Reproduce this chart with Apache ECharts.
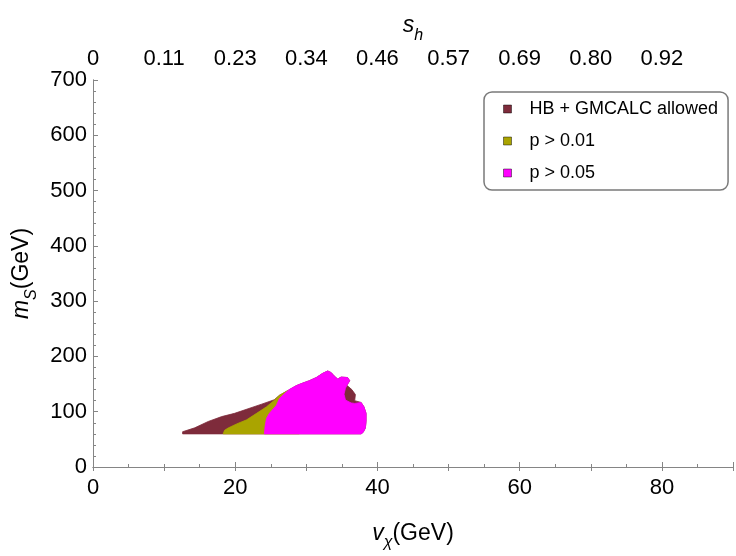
<!DOCTYPE html>
<html>
<head>
<meta charset="utf-8">
<script src="https://cdn.jsdelivr.net/npm/echarts@6/dist/echarts.min.js"></script>
<style>
  html, body { margin: 0; padding: 0; background: #ffffff; }
  #chart { width: 736px; height: 556px; }
</style>
</head>
<body>
<div id="chart"></div>
<script>
// Bottom axis tick labels (v_chi in GeV) and top axis labels (s_h at every 10 GeV)
const vTickLabels = [0, 20, 40, 60, 80];
const shTickLabels = ['0', '0.11', '0.23', '0.34', '0.46', '0.57', '0.69', '0.80', '0.92'];
const mTickLabels = [0, 100, 200, 300, 400, 500, 600, 700];
const seriesNames = ['HB + GMCALC allowed', 'p > 0.01', 'p > 0.05'];

// Region outlines, vertices as [v_chi (GeV), m_S (GeV)]
const allowedRegion = [
  [12.6, 59.9], [12.6, 63.8], [14.3, 70.8], [16.2, 82.3], [18.1, 91.2],
  [19.9, 97.0], [21.8, 105.3], [23.7, 113.6], [25.5, 121.7], [26.2, 129.5],
  [27.4, 138.3], [28.6, 147.2], [29.5, 151.8], [30.4, 156.0], [31.4, 161.8],
  [32.3, 169.4], [33.0, 173.7], [33.5, 170.7], [33.9, 164.8], [34.4, 159.2],
  [34.9, 162.7], [35.8, 161.8], [36.1, 156.0], [35.7, 147.7], [36.4, 140.0],
  [36.9, 131.0], [36.8, 120.0], [37.7, 116.8], [38.1, 108.8], [38.4, 97.0],
  [38.4, 82.3], [38.3, 70.5], [38.0, 62.9], [37.7, 59.9]
];
const p01Region = [
  [18.3, 59.9], [18.5, 66.4], [19.0, 70.5], [20.2, 77.9], [21.6, 85.3],
  [23.0, 97.0], [24.4, 108.8], [25.5, 120.7], [26.2, 129.5], [27.4, 138.3],
  [29.0, 135.0], [29.0, 59.9]
];
const p05Region = [
  [24.1, 59.9], [24.2, 73.5], [24.4, 88.2], [24.8, 97.0], [25.8, 111.8],
  [26.2, 123.5], [26.9, 132.3], [27.6, 140.1], [28.6, 147.2], [29.5, 151.8],
  [30.4, 156.0], [31.4, 161.8], [32.3, 169.4], [33.0, 173.7], [33.5, 170.7],
  [33.9, 164.8], [34.4, 159.2], [34.9, 162.7], [35.8, 161.8], [36.1, 156.0],
  [35.7, 147.7], [35.5, 142.4], [35.3, 131.8], [35.5, 121.2], [36.3, 115.9],
  [36.8, 115.0], [37.7, 116.8], [38.1, 108.8], [38.4, 97.0], [38.4, 82.3],
  [38.3, 70.5], [38.0, 62.9], [37.7, 59.9]
];

const COLORS = ['#7e2b3b', '#aaa400', '#ff00ff'];
const FONT = "'Liberation Sans', Arial, Helvetica, sans-serif";
const FRAME = '#858585';

// Filled region drawn as one polygon through the cartesian coordinate system
function regionSeries(name, verts, color, z) {
  return {
    type: 'custom',
    name: name,
    xAxisIndex: 0,
    yAxisIndex: 0,
    z: z,
    silent: true,
    animation: false,
    clip: true,
    itemStyle: { color: color },
    data: verts,
    encode: { x: 0, y: 1 },
    renderItem: function (params, api) {
      if (params.dataIndex !== 0) return null;
      const pts = verts.map(function (p) { return api.coord(p); });
      return {
        type: 'polygon',
        shape: { points: pts },
        style: { fill: color, stroke: color, lineWidth: 0.8 }
      };
    }
  };
}

const tickStyle = { color: FRAME, width: 1 };
const labelStyle = { color: '#000', fontSize: 22, fontFamily: FONT };

const chart = echarts.init(document.getElementById('chart'), null, { renderer: 'canvas' });

chart.setOption({
  backgroundColor: '#ffffff',
  animation: false,
  textStyle: { fontFamily: FONT },
  grid: { left: 93, top: 80, width: 642, height: 397, containLabel: false },
  legend: {
    orient: 'vertical',
    left: 484,
    top: 92,
    padding: [8, 10, 8, 19],
    itemGap: 14,
    itemWidth: 8,
    itemHeight: 8,
    icon: 'rect',
    backgroundColor: '#ffffff',
    borderColor: '#7a7a7a',
    borderWidth: 1.5,
    borderRadius: 8,
    textStyle: { fontSize: 18, color: '#000', fontFamily: FONT, padding: [0, 0, 0, 13] },
    data: seriesNames.map(function (n) {
      return { name: n, itemStyle: { borderColor: 'rgba(0,0,0,0.45)', borderWidth: 1 } };
    })
  },
  xAxis: [
    {
      type: 'value', position: 'bottom', min: 0, max: 90, interval: 20,
      axisLine: { show: true, lineStyle: tickStyle },
      axisTick: { show: true, inside: true, length: 5, lineStyle: tickStyle },
      minorTick: { show: false },
      splitLine: { show: false },
      axisLabel: {
        ...labelStyle, margin: 10, showMaxLabel: true,
        formatter: function (v) { return vTickLabels.indexOf(v) >= 0 ? String(v) : ''; }
      },
      name: '{i|v}{s|χ}{n|(GeV)}',
      nameLocation: 'middle',
      nameGap: 48,
      nameTextStyle: {
        rich: {
          i: { fontSize: 23, fontStyle: 'italic', fontFamily: FONT, color: '#000', verticalAlign: 'bottom', lineHeight: 30 },
          s: { fontSize: 16, fontStyle: 'italic', fontFamily: FONT, color: '#000', verticalAlign: 'bottom', lineHeight: 30, padding: [0, 0, -6, 0] },
          n: { fontSize: 23, fontFamily: FONT, color: '#000', verticalAlign: 'bottom', lineHeight: 30 }
        }
      }
    },
    {
      type: 'value', position: 'top', min: 0, max: 90, interval: 10,
      axisLine: { show: true, lineStyle: tickStyle },
      axisTick: { show: true, inside: true, length: 4, lineStyle: tickStyle },
      splitLine: { show: false },
      axisLabel: {
        ...labelStyle, margin: 10,
        formatter: function (v) {
          const k = Math.round(v / 10);
          return (v % 10 === 0 && k < shTickLabels.length) ? shTickLabels[k] : '';
        }
      },
      name: '{i|s}{s|h}',
      nameLocation: 'middle',
      nameGap: 40,
      nameTextStyle: {
        rich: {
          i: { fontSize: 23, fontStyle: 'italic', fontFamily: FONT, color: '#000', verticalAlign: 'bottom', lineHeight: 30 },
          s: { fontSize: 16, fontStyle: 'italic', fontFamily: FONT, color: '#000', verticalAlign: 'bottom', lineHeight: 30, padding: [0, 0, -6, 0] }
        }
      }
    },
    {
      // minor ticks every 5 GeV along the bottom edge
      type: 'value', position: 'bottom', min: 0, max: 90, interval: 5,
      axisLine: { show: false },
      axisTick: { show: true, inside: true, length: 3, lineStyle: tickStyle },
      axisLabel: { show: false },
      splitLine: { show: false }
    }
  ],
  yAxis: [
    {
      type: 'value', position: 'left', min: 0, max: 700, interval: 100,
      axisLine: { show: true, lineStyle: tickStyle },
      axisTick: { show: true, inside: true, length: 5, lineStyle: tickStyle },
      minorTick: { show: true, splitNumber: 5, length: 3, lineStyle: tickStyle },
      splitLine: { show: false },
      axisLabel: {
        ...labelStyle, margin: 6,
        formatter: function (v) { return mTickLabels.indexOf(v) >= 0 ? String(v) : ''; }
      },
      name: '{i|m}{s|S}{n|(GeV)}',
      nameLocation: 'middle',
      nameRotate: 90,
      nameGap: 52,
      nameTextStyle: {
        rich: {
          i: { fontSize: 23, fontStyle: 'italic', fontFamily: FONT, color: '#000', verticalAlign: 'bottom', lineHeight: 30 },
          s: { fontSize: 16, fontStyle: 'italic', fontFamily: FONT, color: '#000', verticalAlign: 'bottom', lineHeight: 30, padding: [0, 0, -6, 0] },
          n: { fontSize: 23, fontFamily: FONT, color: '#000', verticalAlign: 'bottom', lineHeight: 30 }
        }
      }
    },
    {
      type: 'value', position: 'right', min: 0, max: 700, interval: 100,
      axisLine: { show: true, lineStyle: tickStyle },
      axisTick: { show: false },
      axisLabel: { show: false },
      splitLine: { show: false }
    }
  ],
  series: [
    regionSeries(seriesNames[0], allowedRegion, COLORS[0], 2),
    regionSeries(seriesNames[1], p01Region, COLORS[1], 3),
    regionSeries(seriesNames[2], p05Region, COLORS[2], 4)
  ]
});
</script>
</body>
</html>
